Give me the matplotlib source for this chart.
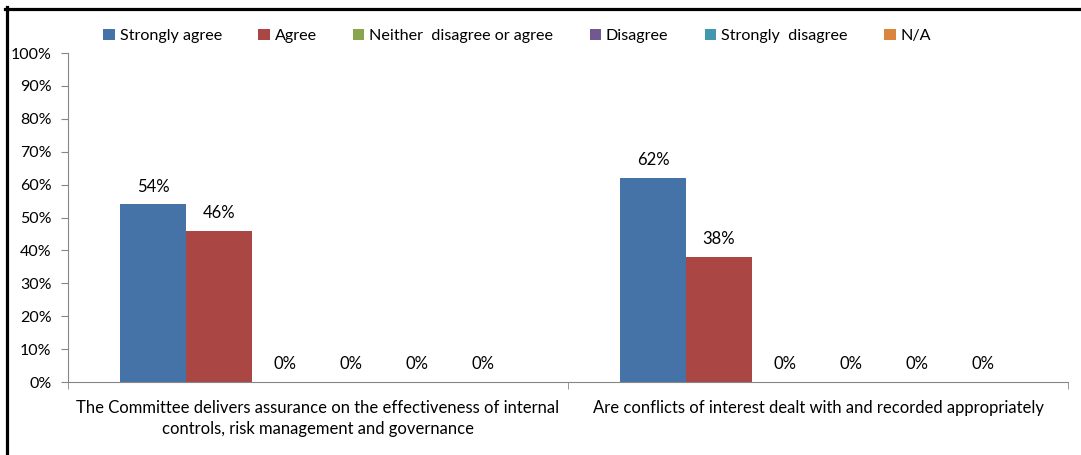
import numpy as np
import matplotlib.pyplot as plt
from matplotlib.lines import Line2D
from matplotlib.ticker import PercentFormatter

questions = [
    "The Committee delivers assurance on the effectiveness of internal\ncontrols, risk management and governance",
    "Are conflicts of interest dealt with and recorded appropriately",
]
responses = ["Strongly agree", "Agree", "Neither  disagree or agree",
             "Disagree", "Strongly  disagree", "N/A"]
# share of answers per response, one list per question
strongly_agree = [54, 62]
agree = [46, 38]
neither = [0, 0]
disagree = [0, 0]
strongly_disagree = [0, 0]
not_applicable = [0, 0]

colors = ["#4572A7", "#AA4643", "#89A54E", "#71588F", "#4198AF", "#DB843D"]
AXIS_GREY = "#868686"

plt.rcParams["font.family"] = ["Lato", "DejaVu Sans"]
plt.rcParams["font.size"] = 12

series = [strongly_agree, agree, neither, disagree, strongly_disagree, not_applicable]

fig = plt.figure(figsize=(10.81, 4.55), dpi=100)
ax = fig.add_axes([0.0629, 0.1604, 0.9251, 0.7231])

x = np.arange(len(questions))
width = 0.132
for i, (vals, name, col) in enumerate(zip(series, responses, colors)):
    pos = x + (i - 2.5) * width
    bars = ax.bar(pos, vals, width, color=col, label=name)
    for b, v in zip(bars, vals):
        ax.annotate(f"{v}%", (b.get_x() + b.get_width() / 2, v),
                    xytext=(0, 7), textcoords="offset points",
                    ha="center", va="bottom", fontsize=12)

ax.set_xlim(-0.5, 1.5)
ax.set_ylim(0, 100)
ax.set_yticks(np.arange(0, 101, 10))
ax.yaxis.set_major_formatter(PercentFormatter(decimals=0))
ax.set_xticks(x)
ax.set_xticklabels(questions, fontsize=12, linespacing=1.35)
ax.set_xticks([-0.5, 0.5, 1.5], minor=True)
ax.tick_params(axis="x", which="major", length=0, pad=13)
ax.tick_params(axis="x", which="minor", length=5, color=AXIS_GREY, direction="out")
ax.tick_params(axis="y", length=5, color=AXIS_GREY, direction="out", pad=7,
               labelsize=11.5)

for side in ["top", "right"]:
    ax.spines[side].set_visible(False)
for side in ["left", "bottom"]:
    ax.spines[side].set_color(AXIS_GREY)

ax.legend(loc="lower left", bbox_to_anchor=(0.029, 1.01), ncol=6, frameon=False,
          handlelength=0.7, handleheight=0.7, handletextpad=0.3,
          columnspacing=2.27, fontsize=11.6, borderaxespad=0)

# outer chart frame on the left and top edges
fig.add_artist(Line2D([6.5 / 1081, 6.5 / 1081], [0, 1 - 7 / 455],
                      transform=fig.transFigure, color="black", lw=2.3))
fig.add_artist(Line2D([5 / 1081, 1], [1 - 8.5 / 455, 1 - 8.5 / 455],
                      transform=fig.transFigure, color="black", lw=2.3))

fig.savefig("out.png", dpi=100)
